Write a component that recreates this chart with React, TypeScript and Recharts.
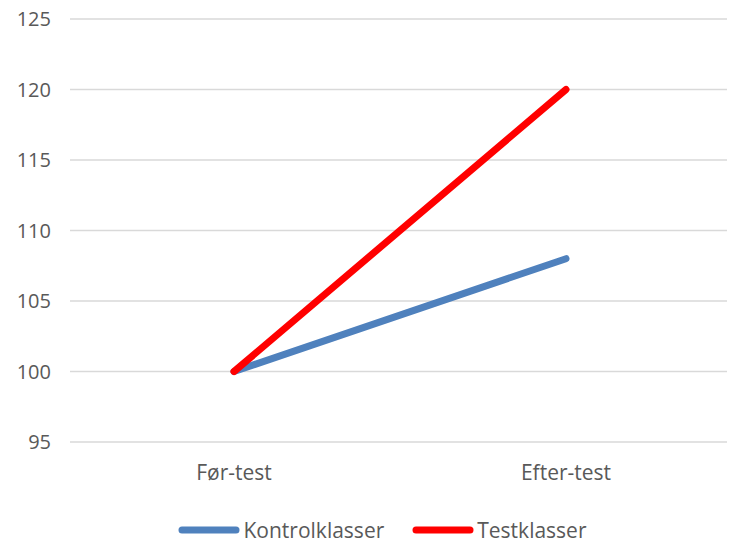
import { LineChart, Line, XAxis, YAxis, CartesianGrid, Legend } from 'recharts'

const categories = ['Før-test', 'Efter-test']
const kontrolklasser = [100, 108]
const testklasser = [100, 120]
const yTicks = [95, 100, 105, 110, 115, 120, 125]

const data = categories.map((name, i) => ({
  name,
  Kontrolklasser: kontrolklasser[i],
  Testklasser: testklasser[i],
}))

const FONT = '"Open Sans", "Liberation Sans", sans-serif'
const TEXT = '#595959'

function LegendContent({ payload }: any) {
  return (
    <div
      style={{
        display: 'flex',
        justifyContent: 'center',
        alignItems: 'center',
        height: 26,
        paddingLeft: 38,
        fontFamily: FONT,
        fontSize: 21,
        color: TEXT,
      }}
    >
      {(payload || []).map((p: any, i: number) => (
        <div key={p.value} style={{ display: 'flex', alignItems: 'center', marginLeft: i ? 28 : 0 }}>
          <svg width={62} height={10} style={{ marginRight: 3 }}>
            <line x1={4} y1={5} x2={58} y2={5} stroke={p.color} strokeWidth={7} strokeLinecap="round" />
          </svg>
          <span>{p.value}</span>
        </div>
      ))}
    </div>
  )
}

export default function App() {
  return (
    <div style={{ position: 'absolute', left: 0, top: 0, background: '#fff' }}>
      <LineChart width={734} height={543} data={data} margin={{ top: 19, right: 7, bottom: 0, left: 0 }}>
        <CartesianGrid vertical={false} stroke="#d9d9d9" strokeWidth={1.5} />
        <XAxis
          dataKey="name"
          height={75}
          axisLine={false}
          tickLine={false}
          tickMargin={17}
          padding={{ left: 164, right: 161 }}
          tick={{ fill: TEXT, fontSize: 21, fontFamily: FONT }}
        />
        <YAxis
          width={70}
          domain={[95, 125]}
          ticks={yTicks}
          axisLine={false}
          tickLine={false}
          tickMargin={13}
          tick={{ fill: TEXT, fontSize: 20, fontFamily: FONT }}
        />
        <Legend verticalAlign="bottom" content={<LegendContent />} />
        <Line
          dataKey="Kontrolklasser"
          stroke="#4f81bd"
          strokeWidth={7}
          strokeLinecap="round"
          dot={false}
          activeDot={false}
          isAnimationActive={false}
        />
        <Line
          dataKey="Testklasser"
          stroke="#ff0000"
          strokeWidth={7}
          strokeLinecap="round"
          dot={false}
          activeDot={false}
          isAnimationActive={false}
        />
      </LineChart>
    </div>
  )
}
